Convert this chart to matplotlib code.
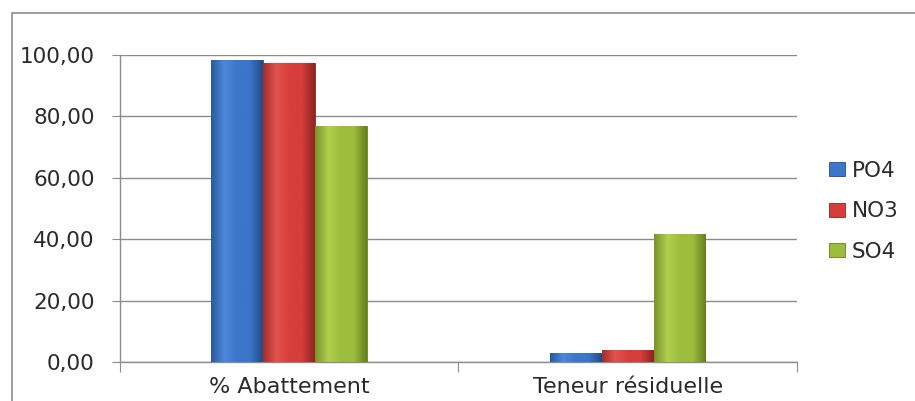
import matplotlib
matplotlib.use("Agg")
import matplotlib.pyplot as plt
import numpy as np
from matplotlib.colors import LinearSegmentedColormap
from matplotlib.patches import Rectangle
from matplotlib.ticker import FuncFormatter

plt.rcParams.update({"font.family": ["DejaVu Sans"], "font.size": 15.5})

categories = ["% Abattement", "Teneur résiduelle"]
series = ["PO4", "NO3", "SO4"]
po4 = [98.4, 2.9]
no3 = [97.4, 3.9]
so4 = [76.9, 41.7]
colors = ["#3b76ca", "#d63e3b", "#9dbe3c"]
# dark / light / dark shades for the bevel-like fill across each bar
shades = [("#2b5a9e", "#4d88da", "#234c88"),
          ("#a52d2b", "#e25450", "#8f2422"),
          ("#78942a", "#b0d04e", "#66801f")]

fig = plt.figure(figsize=(9.15, 4.01), dpi=100)
ax = fig.add_axes([0.131, 0.097, 0.740, 0.766])

# outer chart frame
fig.patches.append(Rectangle((12 / 915, -0.1), 1.0, (401 - 13) / 401 + 0.1,
                             transform=fig.transFigure, fill=False,
                             ec="#8c8c8c", lw=1.2))

x = np.arange(len(categories))
w = 0.153
for i, (vals, c, sh, name) in enumerate(zip([po4, no3, so4], colors, shades, series)):
    bars = ax.bar(x + (i - 1) * w, vals, w, color=c, edgecolor=sh[2], lw=0.6,
                  label=name, zorder=3)
    cmap = LinearSegmentedColormap.from_list(name, [sh[0], sh[1], c, c, sh[2]])
    grad = np.linspace(0, 1, 64).reshape(1, -1)
    for b in bars:
        x0, h = b.get_x(), b.get_height()
        im = ax.imshow(grad, cmap=cmap, aspect="auto", zorder=3.5,
                       extent=(x0, x0 + b.get_width(), 0, h), interpolation="bicubic")
        im.set_clip_path(b)

ax.set_xlim(-0.5, 1.5)
ax.set_ylim(0, 100)
ax.set_yticks(np.arange(0, 101, 20))
ax.yaxis.set_major_formatter(FuncFormatter(lambda v, p: f"{v:.2f}".replace(".", ",")))
ax.grid(axis="y", color="#8c8c8c", lw=1.0, zorder=0)
ax.set_axisbelow(True)

# category-boundary ticks on x, category labels in between
ax.set_xticks([-0.5, 0.5, 1.5])
ax.set_xticklabels([])
ax.set_xticks(x, minor=True)
ax.set_xticklabels(categories, minor=True, fontsize=16, color="#2a2a2a")
ax.tick_params(axis="x", which="minor", length=0, pad=11)
ax.tick_params(axis="x", which="major", length=7, color="#8c8c8c", direction="out")
ax.tick_params(axis="y", length=6, color="#8c8c8c", labelsize=15.5, labelcolor="#2a2a2a", pad=12)

for s in ["top", "right"]:
    ax.spines[s].set_visible(False)
for s in ["left", "bottom"]:
    ax.spines[s].set_color("#8c8c8c")
    ax.spines[s].set_linewidth(1.0)

fig.legend(loc="center left", bbox_to_anchor=(0.885, 0.473), frameon=False,
           fontsize=15.5, labelspacing=0.95, handlelength=0.75, handleheight=0.6,
           handletextpad=0.3, labelcolor="#2a2a2a")

fig.savefig("out.png", dpi=100)
